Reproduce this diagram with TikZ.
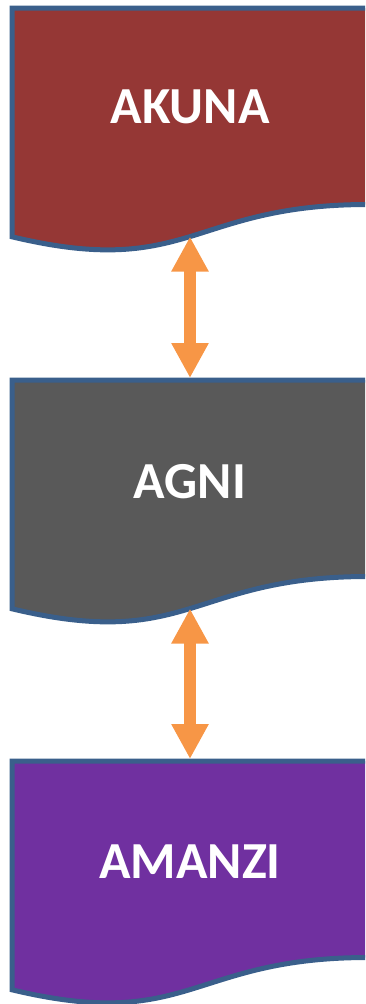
\documentclass[tikz,border=0pt]{standalone}
\usepackage{fontspec}
\setmainfont{Carlito}
\usetikzlibrary{arrows.meta}
\definecolor{akunac}{RGB}{149,55,53}
\definecolor{agnic}{RGB}{89,89,89}
\definecolor{amanzic}{RGB}{112,48,160}
\definecolor{edgec}{RGB}{58,95,139}
\definecolor{arrowc}{RGB}{247,150,70}
\tikzset{
  docshape/.style={draw=edgec, line width=5pt, line join=miter},
  boxlabel/.style={text=white, font=\fontsize{52}{52}\selectfont\bfseries, inner sep=0pt},
  link/.style={draw=arrowc, line width=12pt,
    {Triangle[width=35pt,length=35pt]}-{Triangle[width=35pt,length=35pt]}}
}
\begin{document}
\begin{tikzpicture}[x=1pt,y=-1pt]
\useasboundingbox (0,0) rectangle (365,1004);
\clip (0,0) rectangle (365,1004);
% AKUNA
\path[docshape, fill=akunac] (12,8) -- (368,8) -- (368,204.5)
  .. controls (190,204.5) and (190,279.3) .. (12,236.8) -- cycle;
\node[boxlabel] (akuna) at (190,107) {AKUNA};
\coordinate (akuna-bottom) at (190,236.6);
% AGNI
\path[docshape, fill=agnic] (12,380) -- (368,380) -- (368,576.5)
  .. controls (190,576.5) and (190,651.3) .. (12,608.8) -- cycle;
\node[boxlabel] (agni) at (190,482) {AGNI};
\coordinate (agni-top) at (190,378);
\coordinate (agni-bottom) at (190,608.6);
% AMANZI
\path[docshape, fill=amanzic] (12,761) -- (368,761) -- (368,957.5)
  .. controls (190,957.5) and (190,1032.3) .. (12,989.8) -- cycle;
\node[boxlabel] (amanzi) at (190,862) {AMANZI};
\coordinate (amanzi-top) at (190,759);
% connectors
\draw[link] (akuna-bottom) -- (agni-top);
\draw[link] (agni-bottom) -- (amanzi-top);
\end{tikzpicture}
\end{document}
